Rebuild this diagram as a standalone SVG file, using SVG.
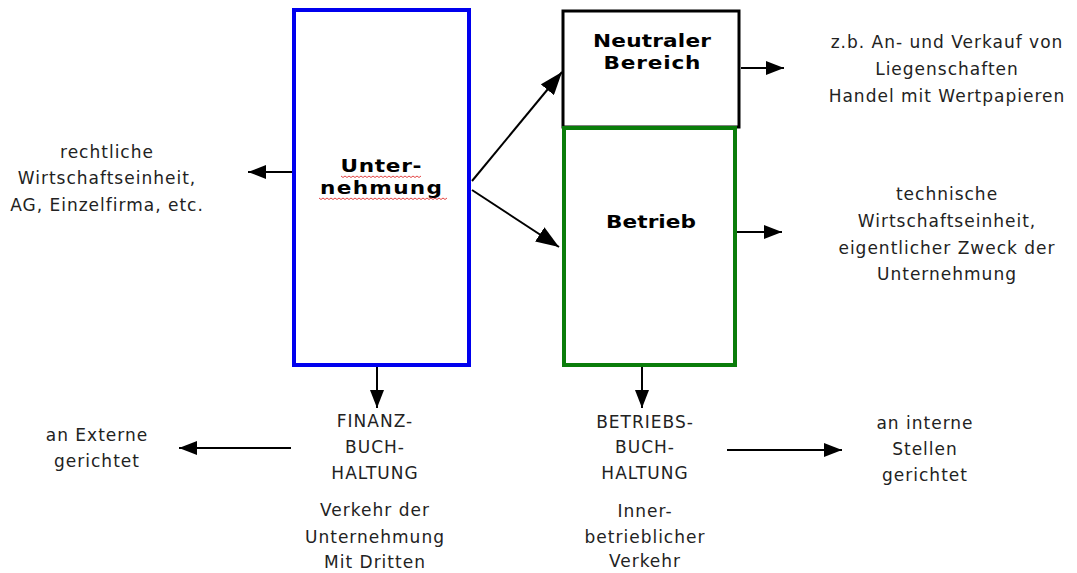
<svg xmlns="http://www.w3.org/2000/svg" width="1077" height="573" viewBox="0 0 1077 573">
  <style>
    .txt { font-family: "DejaVu Sans", "Liberation Sans", sans-serif; font-size: 17px; fill: #222; text-anchor: middle; letter-spacing: 1px; }
    .lbl { font-family: "DejaVu Sans", "Liberation Sans", sans-serif; font-size: 18px; font-weight: bold; fill: #000; text-anchor: middle; }
    .conn { stroke: #000; stroke-width: 2; fill: none; }
    .wave { stroke: #e03030; stroke-width: 0.9; fill: none; }
  </style>
  <defs>
    <marker id="head" markerUnits="userSpaceOnUse" markerWidth="18" markerHeight="14" refX="18" refY="7" orient="auto">
      <path d="M0,0 L18,7 L0,14 z" fill="#000"/>
    </marker>
    <marker id="headBig" markerUnits="userSpaceOnUse" markerWidth="23" markerHeight="17" refX="23" refY="8.5" orient="auto">
      <path d="M0,0 L23,8.5 L0,17 z" fill="#000"/>
    </marker>
  </defs>
  <rect width="1077" height="573" fill="#fff"/>

  <!-- company block -->
  <g id="unternehmung">
    <rect x="294" y="10" width="175" height="355" fill="#fff" stroke="#0000ee" stroke-width="4"/>
    <text class="lbl" transform="translate(381,172) scale(1.2,1)" textLength="67.5" lengthAdjust="spacing">Unter-</text>
    <text class="lbl" transform="translate(381,194) scale(1.2,1)" textLength="101.7" lengthAdjust="spacing">nehmung</text>
    <!-- spell-check squiggles -->
    <path class="wave" d="M341,176 l2,1.5 l2,-1.5 l2,1.5 l2,-1.5 l2,1.5 l2,-1.5 l2,1.5 l2,-1.5 l2,1.5 l2,-1.5 l2,1.5 l2,-1.5 l2,1.5 l2,-1.5 l2,1.5 l2,-1.5 l2,1.5 l2,-1.5 l2,1.5 l2,-1.5 l2,1.5 l2,-1.5 l2,1.5 l2,-1.5 l2,1.5 l2,-1.5 l2,1.5 l2,-1.5 l2,1.5 l2,-1.5 l2,1.5 l2,-1.5 l2,1.5 l2,-1.5 l2,1.5 l2,-1.5 l2,1.5 l2,-1.5 l2,1.5 l2,-1.5"/>
    <path class="wave" d="M319,198 l2,1.5 l2,-1.5 l2,1.5 l2,-1.5 l2,1.5 l2,-1.5 l2,1.5 l2,-1.5 l2,1.5 l2,-1.5 l2,1.5 l2,-1.5 l2,1.5 l2,-1.5 l2,1.5 l2,-1.5 l2,1.5 l2,-1.5 l2,1.5 l2,-1.5 l2,1.5 l2,-1.5 l2,1.5 l2,-1.5 l2,1.5 l2,-1.5 l2,1.5 l2,-1.5 l2,1.5 l2,-1.5 l2,1.5 l2,-1.5 l2,1.5 l2,-1.5 l2,1.5 l2,-1.5 l2,1.5 l2,-1.5 l2,1.5 l2,-1.5 l2,1.5 l2,-1.5 l2,1.5 l2,-1.5 l2,1.5 l2,-1.5 l2,1.5 l2,-1.5 l2,1.5 l2,-1.5 l2,1.5 l2,-1.5 l2,1.5 l2,-1.5 l2,1.5 l2,-1.5 l2,1.5 l2,-1.5 l2,1.5 l2,-1.5 l2,1.5 l2,-1.5 l2,1.5 l2,-1.5"/>
  </g>

  <!-- neutral area -->
  <g id="neutraler-bereich">
    <rect x="563" y="11" width="176" height="116" fill="#fff" stroke="#000" stroke-width="3"/>
    <text class="lbl" transform="translate(652,47) scale(1.2,1)" textLength="98.3" lengthAdjust="spacing">Neutraler</text>
    <text class="lbl" transform="translate(652,69) scale(1.2,1)" textLength="80.8" lengthAdjust="spacing">Bereich</text>
  </g>

  <!-- operating area -->
  <g id="betrieb">
    <rect x="564" y="128" width="171" height="237" fill="#fff" stroke="#0a7d0a" stroke-width="4"/>
    <text class="lbl" transform="translate(651,228) scale(1.2,1)" textLength="75" lengthAdjust="spacing">Betrieb</text>
  </g>

  <!-- descriptions -->
  <g id="recht">
    <text class="txt" x="107" y="158">rechtliche</text>
    <text class="txt" x="107" y="184">Wirtschaftseinheit,</text>
    <text class="txt" x="107" y="211">AG, Einzelfirma, etc.</text>
  </g>
  <g id="neutral-beispiele">
    <text class="txt" x="947" y="48">z.b. An- und Verkauf von</text>
    <text class="txt" x="947" y="75">Liegenschaften</text>
    <text class="txt" x="947" y="102">Handel mit Wertpapieren</text>
  </g>
  <g id="technisch">
    <text class="txt" x="947" y="200">technische</text>
    <text class="txt" x="947" y="227">Wirtschaftseinheit,</text>
    <text class="txt" x="947" y="254">eigentlicher Zweck der</text>
    <text class="txt" x="947" y="280">Unternehmung</text>
  </g>
  <g id="finanzbuchhaltung">
    <text class="txt" x="375" y="427">FINANZ-</text>
    <text class="txt" x="375" y="453">BUCH-</text>
    <text class="txt" x="375" y="479">HALTUNG</text>
    <text class="txt" x="375" y="516">Verkehr der</text>
    <text class="txt" x="375" y="543">Unternehmung</text>
    <text class="txt" x="375" y="568">Mit Dritten</text>
  </g>
  <g id="extern">
    <text class="txt" x="97" y="441">an Externe</text>
    <text class="txt" x="97" y="467">gerichtet</text>
  </g>
  <g id="betriebsbuchhaltung">
    <text class="txt" x="645" y="428">BETRIEBS-</text>
    <text class="txt" x="645" y="453">BUCH-</text>
    <text class="txt" x="645" y="479">HALTUNG</text>
    <text class="txt" x="645" y="517">Inner-</text>
    <text class="txt" x="645" y="543">betrieblicher</text>
    <text class="txt" x="645" y="567">Verkehr</text>
  </g>
  <g id="intern">
    <text class="txt" x="925" y="429">an interne</text>
    <text class="txt" x="925" y="455">Stellen</text>
    <text class="txt" x="925" y="481">gerichtet</text>
  </g>

  <!-- connectors -->
  <g id="connectors">
    <line class="conn" x1="472" y1="181" x2="562" y2="72" marker-end="url(#headBig)"/>
    <line class="conn" x1="472" y1="190" x2="559" y2="247" marker-end="url(#headBig)"/>
    <line class="conn" x1="292" y1="172" x2="248" y2="172" marker-end="url(#head)"/>
    <line class="conn" x1="741" y1="68" x2="784" y2="68" marker-end="url(#head)"/>
    <line class="conn" x1="737" y1="232" x2="782" y2="232" marker-end="url(#head)"/>
    <line class="conn" x1="377" y1="367" x2="377" y2="408" marker-end="url(#head)"/>
    <line class="conn" x1="642" y1="367" x2="642" y2="408" marker-end="url(#head)"/>
    <line class="conn" x1="291" y1="448" x2="179" y2="448" marker-end="url(#head)"/>
    <line class="conn" x1="727" y1="450" x2="842" y2="450" marker-end="url(#head)"/>
  </g>
</svg>
